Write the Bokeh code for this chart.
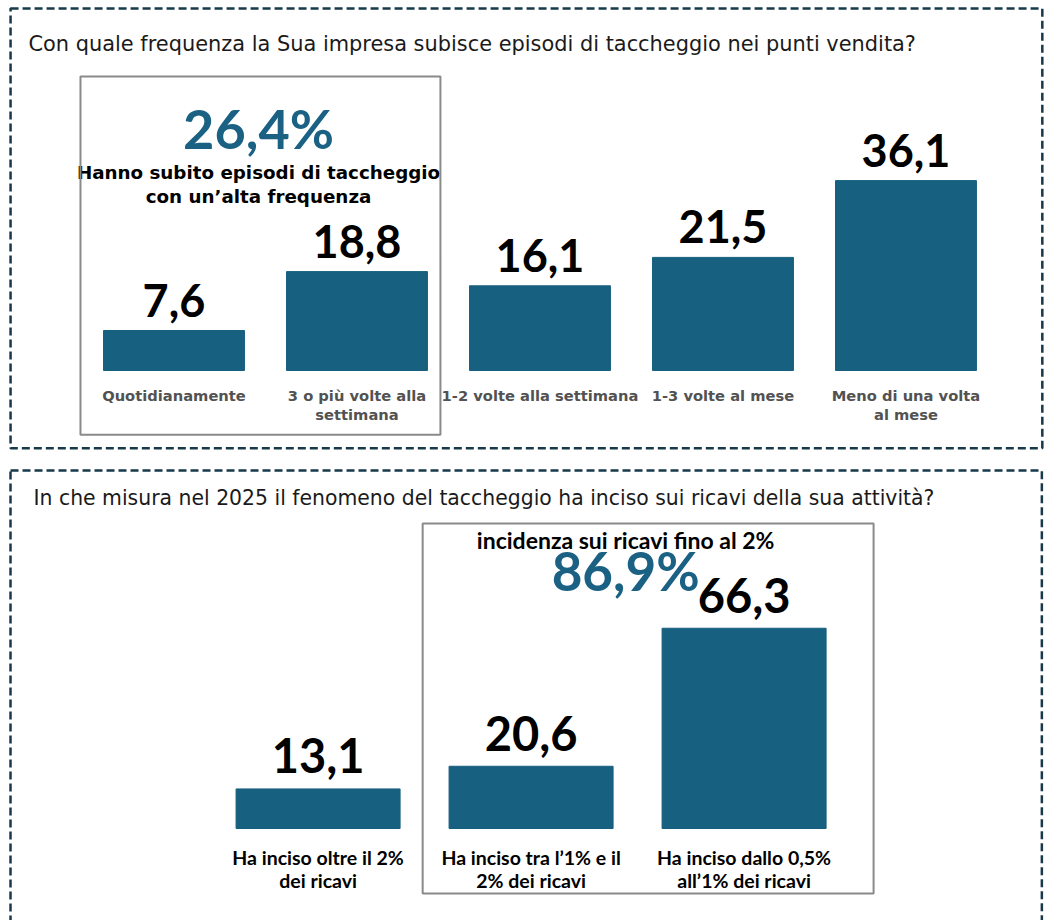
from bokeh.plotting import figure
from bokeh.models import Range1d, BoxAnnotation
from bokeh.layouts import column
from bokeh.core.properties import value
from bokeh.embed import file_html
from bokeh.resources import INLINE

# ---------------- data ----------------
title1 = "Con quale frequenza la Sua impresa subisce episodi di taccheggio nei punti vendita?"
cats1 = ["Quotidianamente", "3 o più volte alla\nsettimana", "1-2 volte alla settimana",
         "1-3 volte al mese", "Meno di una volta\nal mese"]
vals1 = [7.6, 18.8, 16.1, 21.5, 36.1]
highlight1 = "26,4%"
highlight1_text = ["Hanno subito episodi di taccheggio", "con un\u2019alta frequenza"]

title2 = "In che misura nel 2025 il fenomeno del taccheggio ha inciso sui ricavi della sua attività?"
cats2 = ["Ha inciso oltre il 2%\ndei ricavi", "Ha inciso tra l\u20191% e il\n2% dei ricavi",
         "Ha inciso dallo 0,5%\nall\u20191% dei ricavi"]
vals2 = [13.1, 20.6, 66.3]
highlight2 = "86,9%"
highlight2_text = "incidenza sui ricavi fino al 2%"

BAR = "#17607f"
TEAL = "#1a6184"
BORDER = "#17394a"
BOXC = "#8a8a8a"
W = 1046


def fmt(v):
    return f"{v:.1f}".replace(".", ",")


def base_fig(xr, yr, h):
    p = figure(width=W, height=h, x_range=Range1d(*xr), y_range=Range1d(*yr),
               output_backend="svg", toolbar_location=None, min_border=0,
               x_axis_type=None, y_axis_type=None)
    p.grid.visible = False
    p.outline_line_color = None
    p.background_fill_color = "white"
    p.border_fill_color = "white"
    return p


def split_lines(cats, y1, dy):
    xs, ys, ts = [], [], []
    for i, c in enumerate(cats):
        for j, line in enumerate(c.split("\n")):
            xs.append(i)
            ys.append(y1 - j * dy)
            ts.append(line)
    return xs, ys, ts


# ---------------- top panel ----------------
p1 = base_fig((-0.948, -0.948 + W / 183), (-16.73, 70.34), 458)
x1 = list(range(len(vals1)))
p1.vbar(x=x1, top=vals1, bottom=0, width=0.77, color=BAR)

p1.add_layout(BoxAnnotation(left=-0.893, right=4.745, top=68.8, bottom=-14.8,
                            fill_alpha=0, line_color=BORDER, line_alpha=1,
                            line_width=2.5, line_dash="8 4"))
p1.add_layout(BoxAnnotation(left=-0.511, right=1.456, top=55.9, bottom=-12.2,
                            fill_alpha=0, line_color=BOXC, line_alpha=1, line_width=2))

p1.text(x=[-0.795], y=[62.0], text=[title1], text_font=value("DejaVu Sans"),
        text_font_size="20.9px", text_align="left", text_baseline="middle", text_color="#1a1a1a")
p1.text(x=x1, y=[v + 5.8 for v in vals1], text=[fmt(v) for v in vals1],
        text_font=value("Lato"), text_font_size="45px", text_font_style="bold",
        text_align="center", text_baseline="middle", text_color="black")
cx, cy, ct = split_lines(cats1, -4.75, 3.6)
p1.text(x=cx, y=cy, text=ct, text_font=value("DejaVu Sans"), text_font_size="14.7px",
        text_font_style="bold", text_align="center", text_baseline="middle", text_color="#525252")
p1.text(x=[0.462], y=[46.1], text=[highlight1], text_font=value("Lato"),
        text_font_size="54px", text_font_style="bold", text_align="center",
        text_baseline="middle", text_color=TEAL)
p1.text(x=[0.462, 0.462], y=[37.6, 33.0], text=highlight1_text, text_font=value("DejaVu Sans"),
        text_font_size="18.3px", text_font_style="bold", text_align="center",
        text_baseline="middle", text_color="black")

# ---------------- bottom panel ----------------
p2 = base_fig((-1.491, -1.491 + W / 213), (-30.46, 122.5), 462)
x2 = list(range(len(vals2)))
p2.vbar(x=x2, top=vals2, bottom=0, width=0.77, color=BAR)

p2.add_layout(BoxAnnotation(left=-1.444, right=3.398, top=118.5, bottom=-60,
                            fill_alpha=0, line_color=BORDER, line_alpha=1,
                            line_width=2.5, line_dash="8 4"))
p2.add_layout(BoxAnnotation(left=0.491, right=2.608, top=101.0, bottom=-21.5,
                            fill_alpha=0, line_color=BOXC, line_alpha=1, line_width=2))

p2.text(x=[-1.336], y=[109.3], text=[title2], text_font=value("DejaVu Sans"),
        text_font_size="20.4px", text_align="left", text_baseline="middle", text_color="#1a1a1a")
p2.text(x=x2, y=[v + 11.0 for v in vals2], text=[fmt(v) for v in vals2],
        text_font=value("Lato"), text_font_size="47px", text_font_style="bold",
        text_align="center", text_baseline="middle", text_color="black")
cx, cy, ct = split_lines(cats2, -9.6, 7.6)
p2.text(x=cx, y=cy, text=ct, text_font=value("Lato"), text_font_size="19.5px",
        text_font_style="bold", text_align="center", text_baseline="middle", text_color="black")
p2.text(x=[1.444], y=[95.4], text=[highlight2_text], text_font=value("Lato"),
        text_font_size="23px", text_font_style="bold", text_align="center",
        text_baseline="middle", text_color="black")
p2.text(x=[1.444], y=[85.4], text=[highlight2], text_font=value("Lato"),
        text_font_size="53px", text_font_style="bold", text_align="center",
        text_baseline="middle", text_color=TEAL)

layout = column(p1, p2, spacing=0)
open("out.html", "w").write(file_html(layout, INLINE))
